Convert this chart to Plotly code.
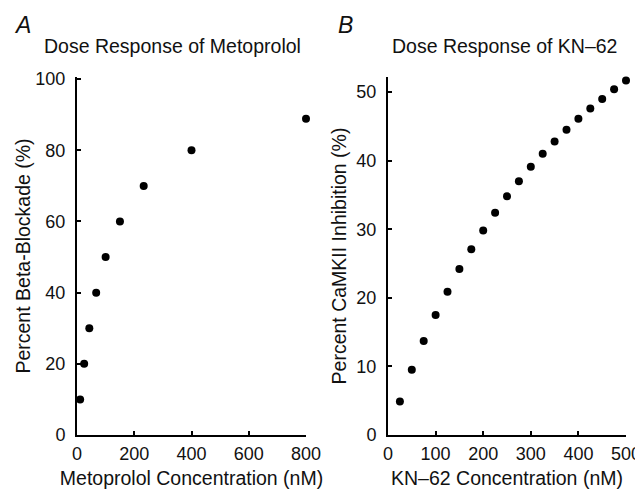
import plotly.graph_objects as go
from plotly.subplots import make_subplots

# Panel A: Metoprolol dose response
meto_conc = [11, 25, 43, 67, 100, 150, 233, 400, 800]
meto_block = [10, 20, 30, 40, 50, 60, 70, 80, 88.9]

# Panel B: KN-62 dose response
kn_conc = [25, 50, 75, 100, 125, 150, 175, 200, 225, 250, 275, 300, 325, 350,
           375, 400, 425, 450, 475, 500]
kn_inhib = [4.9, 9.5, 13.7, 17.5, 20.9, 24.2, 27.1, 29.8, 32.4, 34.8, 37.0, 39.1,
            41.0, 42.8, 44.5, 46.1, 47.6, 49.0, 50.4, 51.7]

meto_xticks = [0, 200, 400, 600, 800]
meto_yticks = [0, 20, 40, 60, 80, 100]
kn_xticks = [0, 100, 200, 300, 400, 500]
kn_yticks = [0, 10, 20, 30, 40, 50]

# page body margin offsets the figure by 8px; compensate
OFF = 8
W, H = 643 - OFF, 490 - OFF
FONT = "Liberation Sans, Arial, Helvetica, sans-serif"
TXT = "#111"

fig = make_subplots(rows=1, cols=2)

marker = dict(color="black", size=8)
fig.add_trace(go.Scatter(x=meto_conc, y=meto_block, mode="markers", marker=marker,
                         cliponaxis=False, showlegend=False), row=1, col=1)
fig.add_trace(go.Scatter(x=kn_conc, y=kn_inhib, mode="markers", marker=marker,
                         cliponaxis=False, showlegend=False), row=1, col=2)

def px_x(p):
    return (p - OFF) / W

def px_y(p):
    return 1 - (p - OFF) / H

ydom = [px_y(435), px_y(77)]

axis_common = dict(
    showline=True, linecolor="black", linewidth=2, mirror=False,
    ticks="inside", ticklen=4, tickwidth=1.5, tickcolor="black",
    showgrid=False, zeroline=False, automargin=False,
    tickfont=dict(size=18, color=TXT, family=FONT),
)
title_font = dict(size=19.5, color=TXT, family=FONT)

fig.update_xaxes(**axis_common, domain=[px_x(77), px_x(306)], range=[0, 800],
                 tickvals=meto_xticks, ticklabelstandoff=1,
                 title=dict(text="Metoprolol Concentration (nM)", font=title_font, standoff=9),
                 row=1, col=1)
fig.update_yaxes(**axis_common, domain=ydom, range=[0, 100.6],
                 tickvals=meto_yticks, ticklabelstandoff=6,
                 title=dict(text="Percent Beta-Blockade (%)", font=title_font, standoff=0),
                 row=1, col=1)
fig.update_xaxes(**axis_common, domain=[px_x(388), px_x(626)], range=[0, 500],
                 tickvals=kn_xticks, ticklabelstandoff=1,
                 title=dict(text="KN–62 Concentration (nM)", font=title_font, standoff=9),
                 row=1, col=2)
fig.update_yaxes(**axis_common, domain=ydom, range=[0, 52.2],
                 tickvals=kn_yticks, ticklabelstandoff=6,
                 title=dict(text="Percent CaMKII Inhibition (%)", font=title_font, standoff=5),
                 row=1, col=2)

annotations = [
    dict(text="Dose Response of Metoprolol", x=px_x(172), y=px_y(46), font=title_font),
    dict(text="Dose Response of KN–62", x=px_x(504), y=px_y(46), font=title_font),
    dict(text="<i>A</i>", x=px_x(22), y=px_y(25), font=dict(size=23, color=TXT, family=FONT)),
    dict(text="<i>B</i>", x=px_x(345), y=px_y(25), font=dict(size=23, color=TXT, family=FONT)),
]
for a in annotations:
    a.update(xref="paper", yref="paper", showarrow=False,
             xanchor="center", yanchor="middle")

fig.update_layout(
    width=W, height=H,
    margin=dict(l=0, r=0, t=0, b=0),
    paper_bgcolor="white", plot_bgcolor="white",
    font=dict(family=FONT, color=TXT),
    annotations=annotations,
)

fig.write_html("out.html")
